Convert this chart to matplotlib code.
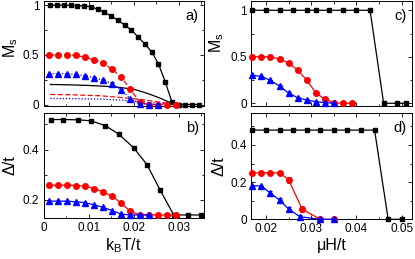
import matplotlib
matplotlib.use("Agg")
import matplotlib.pyplot as plt
from matplotlib.ticker import MultipleLocator

plt.rcParams['font.family'] = ['Liberation Sans', 'DejaVu Sans']

# ---- panel a: Ms vs kBT/t ----
t_blk_a = [0.0015, 0.003, 0.0045, 0.006, 0.0075, 0.009, 0.0105, 0.012, 0.0135, 0.015, 0.0165, 0.018,
           0.0195, 0.021, 0.0225, 0.024, 0.0255, 0.027, 0.0285, 0.03, 0.0315, 0.033, 0.0345]
ms_blk_a = [1.0, 1.0, 1.0, 1.0, 0.997, 0.993, 0.985, 0.96, 0.93, 0.89, 0.85, 0.80,
            0.75, 0.68, 0.61, 0.53, 0.41, 0.23, 0.025, 0.0, 0.0, 0.0, 0.0]
t_rb = [0.0013, 0.0033, 0.0053, 0.0073, 0.0093, 0.0113, 0.0133, 0.0153, 0.0173, 0.0193, 0.0213,
        0.0233, 0.0253, 0.0273, 0.0293]
ms_red_a = [0.5, 0.5, 0.5, 0.495, 0.475, 0.448, 0.414, 0.354, 0.273, 0.152, 0.027, 0.0, 0.0, 0.0, 0.0]
err_red_a = [0, 0, 0, 0, 0.008, 0.01, 0.012, 0.015, 0.015, 0.015, 0.01, 0, 0, 0, 0]
ms_blue_a = [0.31, 0.31, 0.31, 0.303, 0.29, 0.27, 0.245, 0.21, 0.145, 0.057, 0.01, 0.0, 0.0]
err_blue_a = [0, 0, 0, 0, 0.006, 0.008, 0.01, 0.012, 0.012, 0.01, 0, 0, 0]
t_line_blk = [0.0015, 0.006, 0.01, 0.0127, 0.015, 0.0171, 0.0201, 0.023, 0.026, 0.0282, 0.0293]
ms_line_blk = [0.202, 0.198, 0.192, 0.186, 0.18, 0.171, 0.153, 0.113, 0.062, 0.017, 0.0]
t_line_red = [0.0015, 0.006, 0.0127, 0.0171, 0.0216, 0.0253, 0.029]
ms_line_red = [0.101, 0.098, 0.088, 0.071, 0.051, 0.027, 0.003]
t_line_blue = [0.0015, 0.006, 0.0127, 0.0171, 0.0216, 0.026, 0.029]
ms_line_blue = [0.061, 0.059, 0.054, 0.045, 0.029, 0.01, 0.0]

# ---- panel b: gap vs kBT/t ----
t_blk_b = [0.0017, 0.0044, 0.0076, 0.0105, 0.0137, 0.0167, 0.02, 0.023, 0.0259, 0.0289, 0.032, 0.035]
gap_blk_b = [0.519, 0.519, 0.518, 0.514, 0.495, 0.461, 0.407, 0.339, 0.238, 0.14, 0.14, 0.14]
gap_red_b = [0.258, 0.258, 0.258, 0.257, 0.254, 0.245, 0.231, 0.214, 0.186, 0.154, 0.141, 0.14, 0.14, 0.14, 0.14]
gap_blue_b = [0.195, 0.195, 0.195, 0.192, 0.189, 0.18, 0.17, 0.157, 0.143, 0.14, 0.14, 0.14]

# ---- panel c: Ms vs muH/t ----
h_blk_c = [0.017, 0.020, 0.023, 0.026, 0.029, 0.031, 0.034, 0.037, 0.040, 0.043, 0.046, 0.049, 0.051]
ms_blk_c = [1.0, 1.0, 1.0, 1.0, 1.0, 1.0, 1.0, 1.0, 1.0, 1.0, 0.0, 0.0, 0.0]
h_rb_c = [0.017, 0.019, 0.021, 0.023, 0.025, 0.027, 0.029, 0.031, 0.033, 0.035, 0.037, 0.039]
ms_red_c = [0.5, 0.5, 0.5, 0.475, 0.435, 0.357, 0.25, 0.114, 0.043, 0.007, 0.0, 0.0]
err_red_c = [0, 0, 0, 0.008, 0.01, 0.015, 0.018, 0.018, 0.01, 0, 0, 0]
ms_blue_c = [0.3, 0.29, 0.245, 0.185, 0.11, 0.06, 0.035, 0.018, 0.007, 0.0]
err_blue_c = [0, 0, 0.008, 0.012, 0.015, 0.01, 0.008, 0, 0, 0]

# ---- panel d: gap vs muH/t ----
h_blk_d = [0.017, 0.020, 0.023, 0.026, 0.029, 0.032, 0.035, 0.038, 0.041, 0.044, 0.047, 0.050]
gap_blk_d = [0.48, 0.48, 0.48, 0.48, 0.48, 0.48, 0.48, 0.48, 0.48, 0.48, 0.0, 0.0]
h_red_d = [0.017, 0.019, 0.021, 0.023, 0.025, 0.028, 0.032, 0.035]
gap_red_d = [0.25, 0.25, 0.25, 0.25, 0.213, 0.055, 0.0, 0.0]
err_red_d = [0, 0, 0, 0, 0.015, 0.018, 0, 0]
h_blue_d = [0.017, 0.019, 0.021, 0.023, 0.025, 0.0275, 0.032, 0.035]
gap_blue_d = [0.18, 0.18, 0.14, 0.104, 0.055, 0.014, 0.0, 0.0]
err_blue_d = [0, 0, 0.01, 0.012, 0.012, 0.008, 0, 0]

RED = '#ff0000'
BLUE = '#0000ff'
W, H = 415, 259


def box(l, t, r, b):
    return [l / W, 1 - b / H, (r - l) / W, (b - t) / H]


def style(ax):
    ax.tick_params(which='both', direction='in', top=True, right=True, labelsize=8.5, pad=3)
    ax.tick_params(which='major', length=3, width=0.6)
    ax.tick_params(which='minor', length=1.8, width=0.6)
    for s in ax.spines.values():
        s.set_linewidth(0.7)


def series(ax, x, y, color, marker, ms, ls='-', yerr=None):
    if yerr is None:
        ax.plot(x, y, color=color, ls=ls, lw=0.9, marker=marker, ms=ms, clip_on=False, zorder=3)
    else:
        ax.errorbar(x, y, yerr=yerr, color=color, ls=ls, lw=0.9, marker=marker, ms=ms,
                    elinewidth=0.7, capsize=1.5, capthick=0.7, clip_on=False, zorder=3)


fig = plt.figure(figsize=(W / 100, H / 100), dpi=100)

ax_a = fig.add_axes(box(43.5, 1, 203.5, 105.5))
ax_b = fig.add_axes(box(43.5, 113, 203.5, 217.5))
ax_c = fig.add_axes(box(251, 1, 411.7, 105.5))
ax_d = fig.add_axes(box(251, 113, 411.7, 219.3))

# panel a
ax_a.plot(t_line_blk, ms_line_blk, color='black', lw=0.9)
ax_a.plot(t_line_red, ms_line_red, color=RED, lw=0.9, ls=(0, (4, 2)))
ax_a.plot(t_line_blue, ms_line_blue, color=BLUE, lw=0.9, ls=(0, (1, 1.5)))
series(ax_a, t_blk_a, ms_blk_a, 'black', 's', 3.2)
series(ax_a, t_rb, ms_red_a, RED, 'o', 4.0, ls=(0, (4, 2)), yerr=err_red_a)
series(ax_a, t_rb[:len(ms_blue_a)], ms_blue_a, BLUE, '^', 4.0, ls=(0, (1, 1.5)), yerr=err_blue_a)
ax_a.set_xlim(0, 0.0355)
ax_a.set_ylim(-0.01, 1.043)
ax_a.set_yticks([0, 0.5, 1])
ax_a.set_yticklabels(['0', '0.5', '1'])
ax_a.yaxis.set_minor_locator(MultipleLocator(0.25))
ax_a.xaxis.set_major_locator(MultipleLocator(0.01))
ax_a.xaxis.set_minor_locator(MultipleLocator(0.005))
ax_a.set_xticklabels([])
ax_a.set_ylabel(r'M$_\mathregular{s}$', fontsize=11.5)
ax_a.yaxis.set_label_coords(-0.147, 0.55)

# panel b
series(ax_b, t_blk_b, gap_blk_b, 'black', 's', 3.2)
series(ax_b, t_rb, gap_red_b, RED, 'o', 4.0)
series(ax_b, t_rb[:len(gap_blue_b)], gap_blue_b, BLUE, '^', 4.0)
ax_b.set_xlim(0, 0.0355)
ax_b.set_ylim(0.13, 0.545)
ax_b.set_yticks([0.2, 0.4])
ax_b.yaxis.set_minor_locator(MultipleLocator(0.1))
ax_b.set_xticks([0, 0.01, 0.02, 0.03])
ax_b.set_xticklabels(['0', '0.01', '0.02', '0.03'])
ax_b.xaxis.set_minor_locator(MultipleLocator(0.005))
ax_b.set_ylabel('Δ/t', fontsize=11.5)
ax_b.yaxis.set_label_coords(-0.16, 0.5)
ax_b.set_xlabel(r'k$_\mathregular{B}$T/t', fontsize=11.5, labelpad=2)

# panel c
series(ax_c, h_blk_c, ms_blk_c, 'black', 's', 3.2)
series(ax_c, h_rb_c, ms_red_c, RED, 'o', 4.0, yerr=err_red_c)
series(ax_c, h_rb_c[:len(ms_blue_c)], ms_blue_c, BLUE, '^', 4.0, yerr=err_blue_c)
ax_c.set_xlim(0.0167, 0.0522)
ax_c.set_ylim(-0.024, 1.1)
ax_c.set_yticks([0, 0.5, 1])
ax_c.set_yticklabels(['0', '0.5', '1'])
ax_c.yaxis.set_minor_locator(MultipleLocator(0.25))
ax_c.xaxis.set_major_locator(MultipleLocator(0.01))
ax_c.xaxis.set_minor_locator(MultipleLocator(0.005))
ax_c.set_xticklabels([])
ax_c.set_ylabel(r'M$_\mathregular{s}$', fontsize=11.5)
ax_c.yaxis.set_label_coords(-0.155, 0.6)

# panel d
series(ax_d, h_blk_d, gap_blk_d, 'black', 's', 3.2)
series(ax_d, h_red_d, gap_red_d, RED, 'o', 4.0, yerr=err_red_d)
series(ax_d, h_blue_d, gap_blue_d, BLUE, '^', 4.0, yerr=err_blue_d)
ax_d.set_xlim(0.0167, 0.0522)
ax_d.set_ylim(0, 0.572)
ax_d.set_yticks([0, 0.2, 0.4])
ax_d.set_yticklabels(['0', '0.2', '0.4'])
ax_d.yaxis.set_minor_locator(MultipleLocator(0.1))
ax_d.set_xticks([0.02, 0.03, 0.04, 0.05])
ax_d.set_xticklabels(['0.02', '0.03', '0.04', '0.05'])
ax_d.xaxis.set_minor_locator(MultipleLocator(0.005))
ax_d.set_ylabel('Δ/t', fontsize=11.5)
ax_d.yaxis.set_label_coords(-0.15, 0.5)
ax_d.set_xlabel('μH/t', fontsize=11.5, labelpad=2)

for ax, lab in [(ax_a, 'a)'), (ax_b, 'b)'), (ax_c, 'c)'), (ax_d, 'd)')]:
    style(ax)
    ax.text(0.97, 0.86, lab, transform=ax.transAxes, ha='right', va='center', fontsize=10.5)

fig.savefig('out.png', dpi=100)
